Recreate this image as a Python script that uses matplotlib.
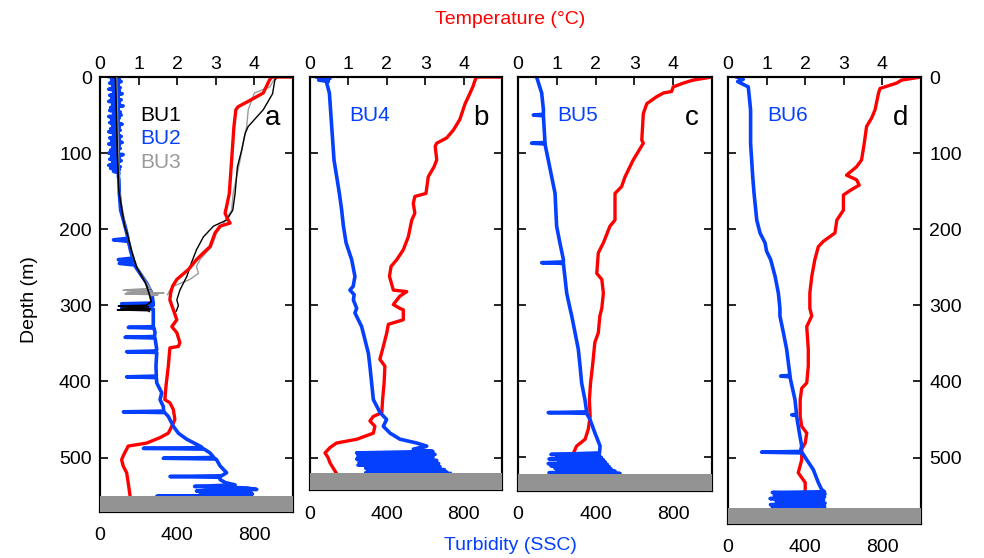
import matplotlib
matplotlib.use('Agg')
import matplotlib.pyplot as plt

plt.rcParams['font.family'] = ['Liberation Sans', 'DejaVu Sans']

# ---------------- data (depth in m) ----------------
# Panel a : BU2 (red temperature / blue turbidity), BU1 (black), BU3 (gray)
a_temp_d = [0, 0, 4, 21, 32, 39, 43, 65, 109, 153, 170, 179, 186, 192, 196, 205, 223, 231, 240, 253, 266,
            275, 284, 293, 306, 319, 328, 336, 349, 354, 356, 380, 406, 424, 428, 437, 450, 459, 468, 474,
            481, 485, 489, 498, 503, 511, 520, 533, 551]
a_temp_v = [5.0, 4.45, 4.39, 4.23, 3.84, 3.58, 3.52, 3.47, 3.41, 3.35, 3.28, 3.24, 3.30, 3.37, 3.11, 2.98,
            2.85, 2.68, 2.50, 2.29, 1.99, 1.88, 1.83, 1.81, 1.90, 1.99, 1.86, 1.99, 2.07, 2.03, 1.81, 1.77,
            1.71, 1.68, 1.81, 1.90, 1.94, 1.86, 1.77, 1.55, 1.21, 0.73, 0.69, 0.60, 0.56, 0.60, 0.69, 0.73,
            0.78]
a_turb_d = [0, 2, 4, 6, 8, 10, 12, 14, 16, 18, 20, 22, 24, 26, 28, 30, 32, 34, 36, 38, 40, 42, 44, 46, 48,
            50, 52, 54, 56, 58, 60, 62, 64, 66, 68, 70, 72, 74, 76, 78, 80, 82, 84, 86, 88, 90, 92, 94, 96,
            98, 100, 102, 104, 106, 108, 110, 112, 114, 116, 118, 120, 122, 124, 126, 130, 135,
            153, 175, 196, 212, 214, 216, 230, 238, 240, 242, 245, 247, 258, 271, 284,
            297, 298, 300, 303, 305, 314, 328, 329, 330, 336, 341, 342, 343, 358, 360, 361, 362, 380, 393,
            394, 395, 402, 415, 424, 433, 439, 440, 441, 446, 459, 468, 476, 485, 487, 488, 489, 494, 500,
            501, 502, 503, 511, 520, 524, 525, 526, 529, 533, 536, 538, 540, 542, 543, 544, 545, 547, 548,
            549, 550, 551, 551]
a_turb_v = [55, 100, 60, 110, 50, 95, 65, 105, 45, 100, 70, 115, 50, 95, 60, 110, 45, 100, 65, 120, 55, 95,
            50, 105, 70, 110, 45, 100, 60, 95, 50, 115, 65, 100, 55, 105, 45, 95, 70, 110, 50, 100, 60, 115,
            45, 100, 65, 105, 55, 95, 45, 120, 60, 100, 50, 110, 65, 95, 45, 105, 55, 100, 70, 98, 95, 98,
            100, 107, 130, 145, 70, 147, 160, 170, 95, 173, 100, 178, 207, 242,
            268, 276, 112, 276, 112, 276, 276, 276, 147, 280, 285, 282, 130, 285, 294, 290, 138, 294, 290,
            292, 138, 292, 294, 320, 311, 328, 330, 121, 335, 354, 380, 406, 449, 518, 530, 225, 540, 570,
            590, 328, 600, 604, 622, 656, 630, 363, 622, 622, 650, 700, 490, 760, 812, 560, 500, 780, 520,
            790, 600, 760, 294, 760]
bu1_temp_d = [0, 0, 4, 22, 43, 65, 74, 96, 118, 153, 175, 188, 196, 210, 227, 244, 262, 280, 293, 300, 306, 308]
bu1_temp_v = [5.0, 4.6, 4.53, 4.47, 4.23, 3.84, 3.76, 3.67, 3.56, 3.50, 3.44, 3.28, 2.94, 2.68, 2.50, 2.37,
              2.25, 2.07, 1.99, 2.03, 1.99, 1.97]
bu1_turb_d = [0, 50, 100, 150, 196, 205, 215, 230, 250, 270, 285, 295, 300, 301, 302, 304, 305, 306, 307, 308]
bu1_turb_v = [80, 85, 90, 98, 128, 140, 150, 165, 190, 235, 255, 265, 240, 95, 250, 110, 260, 90, 250, 255]
bu3_temp_d = [0, 0, 4, 13, 21, 43, 65, 87, 109, 153, 175, 192, 205, 223, 240, 249, 258, 266, 275, 280, 286]
bu3_temp_v = [5.0, 4.55, 4.50, 4.40, 4.00, 3.84, 3.80, 3.71, 3.63, 3.45, 3.41, 3.20, 3.02, 2.89, 2.59, 2.50,
              2.55, 2.33, 1.90, 1.81, 1.75]
bu3_turb_d = [0, 50, 100, 150, 196, 215, 235, 255, 270, 278, 280, 281, 283, 284, 285, 286, 287]
bu3_turb_v = [85, 90, 95, 100, 130, 150, 170, 200, 240, 260, 120, 270, 140, 330, 130, 300, 270]

# Panel b : BU4
b_temp_d = [0, 0, 4, 13, 21, 35, 56, 70, 80, 87, 91, 109, 118, 131, 153, 157, 166, 179, 188, 210, 227, 240,
            249, 262, 280, 282, 288, 299, 304, 306, 319, 325, 336, 354, 371, 380, 402, 424, 441, 446, 452,
            459, 468, 476, 481, 487, 494, 500, 507, 521]
b_temp_v = [5.0, 4.34, 4.30, 4.24, 4.17, 4.04, 3.90, 3.73, 3.56, 3.30, 3.26, 3.30, 3.23, 3.08, 3.02, 2.73,
            2.69, 2.73, 2.65, 2.56, 2.43, 2.26, 2.11, 2.07, 2.17, 2.52, 2.34, 2.17, 2.34, 2.43, 2.43, 2.04,
            2.00, 1.91, 1.82, 1.95, 1.93, 1.89, 1.87, 1.65, 1.56, 1.69, 1.65, 1.22, 0.69, 0.52, 0.39, 0.47,
            0.52, 0.69]
b_turb_d = [0, 2, 4, 6, 8, 21, 65, 109, 153, 175, 196, 218, 240, 262, 275, 280, 286, 293, 304, 310, 328, 345,
            363, 380, 402, 424, 441, 450, 459, 468, 476, 481, 485, 489, 492, 494, 496, 498, 500, 502, 504,
            506, 508, 510, 512, 514, 516, 518, 519, 520, 521]
b_turb_v = [35, 104, 45, 95, 87, 101, 113, 125, 153, 165, 174, 188, 217, 234, 225, 208, 230, 226, 243, 234,
            269, 286, 304, 312, 321, 330, 365, 399, 382, 417, 469, 556, 608, 538, 640, 243, 651, 250, 640,
            243, 660, 255, 670, 250, 677, 290, 700, 300, 712, 290, 729]

# Panel c : BU5
c_temp_d = [0, 4, 8, 13, 19, 21, 26, 35, 48, 83, 87, 109, 131, 144, 153, 188, 196, 218, 231, 258, 266, 284,
            304, 314, 336, 349, 380, 402, 424, 446, 463, 476, 485, 494, 503, 511, 520, 522]
c_temp_v = [5.0, 4.52, 4.26, 4.00, 3.96, 3.75, 3.57, 3.32, 3.23, 3.19, 3.23, 2.97, 2.76, 2.67, 2.50, 2.50,
            2.37, 2.20, 2.07, 2.03, 2.16, 2.20, 2.16, 2.11, 2.07, 1.98, 1.92, 1.87, 1.84, 1.86, 1.81, 1.73,
            1.51, 1.43, 1.34, 1.25, 1.04, 1.00]
c_turb_d = [0, 21, 43, 49, 50, 51, 86, 87, 88, 109, 153, 196, 218, 240, 243, 244, 245, 284, 304, 314, 336,
            358, 380, 402, 424, 440, 441, 442, 450, 468, 485, 494, 496, 497, 499, 500, 502, 503, 505, 506,
            508, 509, 511, 512, 514, 515, 517, 518, 520, 521, 522]
c_turb_v = [96, 122, 131, 131, 79, 131, 139, 70, 139, 156, 191, 199, 216, 234, 234, 122, 234, 251, 268, 277,
            294, 311, 320, 328, 345, 354, 156, 354, 371, 397, 423, 420, 170, 420, 200, 430, 160, 440, 210,
            450, 156, 460, 170, 470, 190, 480, 200, 500, 160, 526, 200]

# Panel d : BU6
d_temp_d = [0, 4, 8, 15, 21, 43, 54, 65, 87, 109, 118, 129, 135, 142, 148, 155, 175, 188, 205, 216, 223,
            240, 262, 284, 304, 314, 328, 358, 380, 402, 409, 424, 446, 459, 468, 481, 489, 503, 520, 533,
            546, 566]
d_temp_v = [5.0, 4.50, 4.37, 3.94, 3.90, 3.81, 3.72, 3.59, 3.53, 3.46, 3.33, 3.07, 3.33, 3.40, 3.20, 2.99,
            2.99, 2.82, 2.77, 2.47, 2.34, 2.25, 2.17, 2.12, 2.12, 2.17, 2.04, 2.08, 2.08, 2.04, 1.91, 1.87,
            1.87, 1.91, 2.04, 2.00, 1.91, 1.91, 1.82, 2.00, 2.00, 1.93]
d_turb_d = [0, 3, 6, 13, 43, 87, 131, 153, 188, 205, 218, 229, 240, 262, 284, 304, 314, 336, 358, 392, 393,
            394, 424, 443, 444, 445, 468, 485, 492, 493, 494, 503, 516, 533, 542, 545, 546, 548, 550, 552,
            554, 556, 558, 560, 562, 564, 566, 567]
d_turb_v = [45, 79, 50, 105, 117, 117, 128, 135, 149, 166, 192, 200, 221, 244, 261, 269, 269, 287, 304, 321,
            273, 321, 347, 355, 330, 355, 370, 382, 375, 174, 385, 408, 442, 468, 485, 500, 230, 503, 240,
            500, 218, 495, 250, 503, 220, 500, 230, 500]

depth_ticks = [0, 100, 200, 300, 400, 500]
temp_ticks = [0, 1, 2, 3, 4]
turb_ticks = [0, 400, 800]
panel_letters = ['a', 'b', 'c', 'd']
station_labels = ['BU4', 'BU5', 'BU6']
seabed = [551, 521, 522, 567]
depth_max = [571, 543, 544, 587]

# ---------------- styling ----------------
RED = '#FF0000'
BLUE = '#0540FF'
GRAY = '#9A9A9A'
BED = '#939393'
W, H = 984, 558
TOP_PX = 77
PX_PER_M = 0.761
lefts = [100, 310, 518, 728]
widths = [193, 192, 194, 193]

fig = plt.figure(figsize=(W / 100, H / 100), dpi=100)

temps = [(a_temp_d, a_temp_v), (b_temp_d, b_temp_v), (c_temp_d, c_temp_v), (d_temp_d, d_temp_v)]
turbs = [(a_turb_d, a_turb_v), (b_turb_d, b_turb_v), (c_turb_d, c_turb_v), (d_turb_d, d_turb_v)]

for i in range(4):
    hpx = depth_max[i] * PX_PER_M
    ax = fig.add_axes([lefts[i] / W, (H - TOP_PX - hpx) / H, widths[i] / W, hpx / H])
    axt = ax.twiny()
    # temperature on top axis
    ax.set_xlim(0, 5)
    ax.set_ylim(depth_max[i], 0)
    ax.xaxis.tick_top()
    ax.set_xticks(temp_ticks)
    ax.set_yticks(depth_ticks)
    ax.tick_params(axis='x', direction='in', length=6, width=1.2, pad=3, labelsize=14,
                   top=True, bottom=False, labeltop=True, labelbottom=False)
    ax.tick_params(axis='y', direction='in', length=6, width=1.2, pad=6, labelsize=14,
                   left=True, right=True, labelleft=(i == 0), labelright=(i == 3))
    # turbidity on bottom axis
    axt.set_xlim(0, 1000)
    axt.xaxis.tick_bottom()
    axt.set_xticks(turb_ticks)
    axt.tick_params(axis='x', direction='in', length=6, width=1.2, pad=11, labelsize=14,
                    top=False, bottom=True, labeltop=False, labelbottom=True)
    for a_ in (ax, axt):
        for s in a_.spines.values():
            s.set_linewidth(1.5)

    if i == 0:
        ax.plot(bu3_temp_v, bu3_temp_d, color=GRAY, lw=1.0, zorder=2)
        ax.plot(bu1_temp_v, bu1_temp_d, color='black', lw=1.0, zorder=2)
    td, tv = temps[i]
    ax.plot(tv, td, color=RED, lw=2.4, zorder=3, solid_joinstyle='round')

    sd, sv = turbs[i]
    axt.plot(sv, sd, color=BLUE, lw=2.6, zorder=2, solid_joinstyle='round')
    if i == 0:
        axt.plot(bu3_turb_v, bu3_turb_d, color=GRAY, lw=1.2, zorder=3)
        axt.plot(bu1_turb_v, bu1_turb_d, color='black', lw=1.2, zorder=3)
    axt.axhspan(seabed[i], depth_max[i], color=BED, lw=0, zorder=5)

    yt = ax.get_yaxis_transform()
    ax.text(1 - 13 / widths[i], 54, panel_letters[i], transform=yt, ha='right', va='center',
            fontsize=20, color='black', zorder=6)
    if i == 0:
        ax.text(40 / widths[i], 50, 'BU1', transform=yt, ha='left', va='center', fontsize=15, color='black')
        ax.text(40 / widths[i], 81, 'BU2', transform=yt, ha='left', va='center', fontsize=15, color=BLUE)
        ax.text(40 / widths[i], 112, 'BU3', transform=yt, ha='left', va='center', fontsize=15, color=GRAY)
    else:
        ax.text(39 / widths[i], 50, station_labels[i - 1], transform=yt, ha='left', va='center',
                fontsize=15, color=BLUE)

fig.text(510 / W, 1 - 19 / H, 'Temperature (°C)', color=RED, fontsize=14, ha='center', va='center')
fig.text(510 / W, 1 - 545 / H, 'Turbidity (SSC)', color=BLUE, fontsize=14, ha='center', va='center')
fig.text(30 / W, 1 - 300 / H, 'Depth (m)', color='black', fontsize=14, ha='center', va='center',
         rotation=90)

fig.savefig('out.png', dpi=100)
